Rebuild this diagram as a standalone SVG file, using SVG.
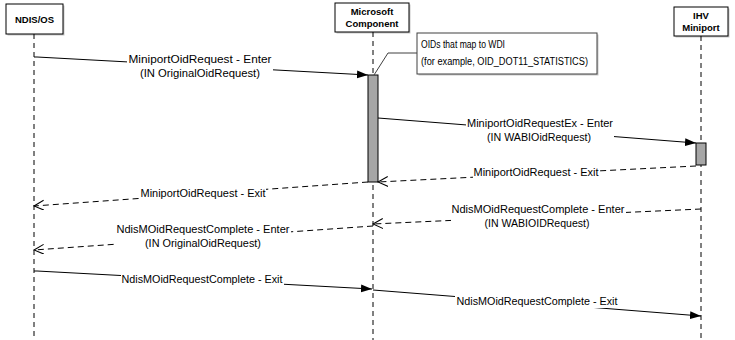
<svg xmlns="http://www.w3.org/2000/svg" width="735" height="340" viewBox="0 0 735 340">
<style>
text{font-family:"Liberation Sans",Arial,sans-serif;fill:#000}
.hd{font-size:9.5px;font-weight:bold;text-anchor:middle}
.lb{font-size:10px;text-anchor:middle}
.nt{font-size:10px}
.box{fill:#fff;stroke:#000;stroke-width:1}
.sh{fill:#c8c8c8}
.life{stroke:#000;stroke-width:1;stroke-dasharray:5,4;fill:none}
.act{fill:#a6a6a6;stroke:#000;stroke-width:1}
.msg{stroke:#000;stroke-width:1;fill:none}
.ret{stroke:#000;stroke-width:1;fill:none;stroke-dasharray:6,4}
.bg{fill:#fff}
</style>
<defs>
<marker id="fa" markerUnits="userSpaceOnUse" markerWidth="12" markerHeight="10" refX="11" refY="4" orient="auto">
<path d="M0,0 L11,4 L0,8 Z" fill="#000"/>
</marker>
<marker id="oa" markerUnits="userSpaceOnUse" markerWidth="12" markerHeight="12" refX="10" refY="5" orient="auto">
<path d="M0,0 L10,5 L0,10" fill="none" stroke="#000" stroke-width="1"/>
</marker>
</defs>

<g id="ndis">
<rect class="sh" x="7.5" y="5.5" width="57" height="30"/>
<rect class="box" x="6" y="4" width="57" height="30"/>
<text class="hd" x="34.5" y="22.5">NDIS/OS</text>
<line class="life" x1="34" y1="34" x2="34" y2="340"/>
</g>

<g id="microsoft">
<rect class="sh" x="336.5" y="4.5" width="74" height="29"/>
<rect class="box" x="335" y="3" width="74" height="29"/>
<text class="hd" x="372" y="14.5">Microsoft</text>
<text class="hd" x="372" y="27">Component</text>
<line class="life" x1="373" y1="32" x2="373" y2="340"/>
<rect class="act" x="368" y="75" width="10" height="107"/>
</g>

<g id="ihv">
<rect class="sh" x="675.5" y="8.5" width="54" height="29"/>
<rect class="box" x="674" y="7" width="54" height="29"/>
<text class="hd" x="701" y="19">IHV</text>
<text class="hd" x="701" y="31">Miniport</text>
<line class="life" x1="701" y1="36" x2="701" y2="340"/>
<rect class="act" x="696" y="143" width="10" height="22"/>
</g>

<g id="note">
<rect class="sh" x="418.5" y="34.5" width="180" height="41"/>
<rect x="417" y="33" width="180" height="41" fill="#fff" stroke="#404040" stroke-width="1"/>
<text class="nt" x="421" y="48" textLength="84" lengthAdjust="spacingAndGlyphs">OIDs that map to WDI</text>
<text class="nt" x="421" y="65" textLength="167" lengthAdjust="spacingAndGlyphs">(for example, OID_DOT11_STATISTICS)</text>
</g>

<g id="connectors">
<polyline points="417,53 388,53 374,75" fill="none" stroke="#404040" stroke-width="1"/>

<polyline class="msg" points="34,57 37,57 368,75" marker-end="url(#fa)"/>
<rect class="bg" x="127" y="53" width="146" height="26"/>
<text class="lb" x="200" y="63" textLength="143" lengthAdjust="spacingAndGlyphs">MiniportOidRequest - Enter</text>
<text class="lb" x="200" y="77" textLength="120" lengthAdjust="spacingAndGlyphs">(IN OriginalOidRequest)</text>

<line class="msg" x1="378" y1="118" x2="696" y2="143" marker-end="url(#fa)"/>
<rect class="bg" x="466" y="117" width="148" height="27"/>
<text class="lb" x="540" y="127" textLength="146" lengthAdjust="spacingAndGlyphs">MiniportOidRequestEx - Enter</text>
<text class="lb" x="539" y="141" textLength="104" lengthAdjust="spacingAndGlyphs">(IN WABIOidRequest)</text>

<line class="ret" x1="696" y1="166" x2="378" y2="182" marker-end="url(#oa)"/>
<rect class="bg" x="473" y="166" width="127" height="13"/>
<text class="lb" x="536" y="176" textLength="125" lengthAdjust="spacingAndGlyphs">MiniportOidRequest - Exit</text>

<line class="ret" x1="368" y1="182" x2="34" y2="206" marker-end="url(#oa)"/>
<rect class="bg" x="139" y="187" width="127" height="13"/>
<text class="lb" x="203" y="197" textLength="125" lengthAdjust="spacingAndGlyphs">MiniportOidRequest - Exit</text>

<line class="ret" x1="701" y1="209" x2="373" y2="224" marker-end="url(#oa)"/>
<rect class="bg" x="451" y="203" width="175" height="27"/>
<text class="lb" x="538" y="213" textLength="173" lengthAdjust="spacingAndGlyphs">NdisMOidRequestComplete - Enter</text>
<text class="lb" x="537" y="227" textLength="105" lengthAdjust="spacingAndGlyphs">(IN WABIOIDRequest)</text>

<line class="ret" x1="373" y1="226" x2="34" y2="250" marker-end="url(#oa)"/>
<rect class="bg" x="116" y="223" width="175" height="27"/>
<text class="lb" x="203" y="233" textLength="173" lengthAdjust="spacingAndGlyphs">NdisMOidRequestComplete - Enter</text>
<text class="lb" x="203" y="247" textLength="116" lengthAdjust="spacingAndGlyphs">(IN OriginalOidRequest)</text>

<polyline class="msg" points="34,271 37,271 372,289" marker-end="url(#fa)"/>
<rect class="bg" x="121" y="273" width="163" height="13"/>
<text class="lb" x="202" y="283" textLength="161" lengthAdjust="spacingAndGlyphs">NdisMOidRequestComplete - Exit</text>

<line class="msg" x1="373" y1="290" x2="701" y2="316" marker-end="url(#fa)"/>
<rect class="bg" x="455" y="295" width="164" height="13"/>
<text class="lb" x="537" y="305" textLength="161" lengthAdjust="spacingAndGlyphs">NdisMOidRequestComplete - Exit</text>
</g>
</svg>
